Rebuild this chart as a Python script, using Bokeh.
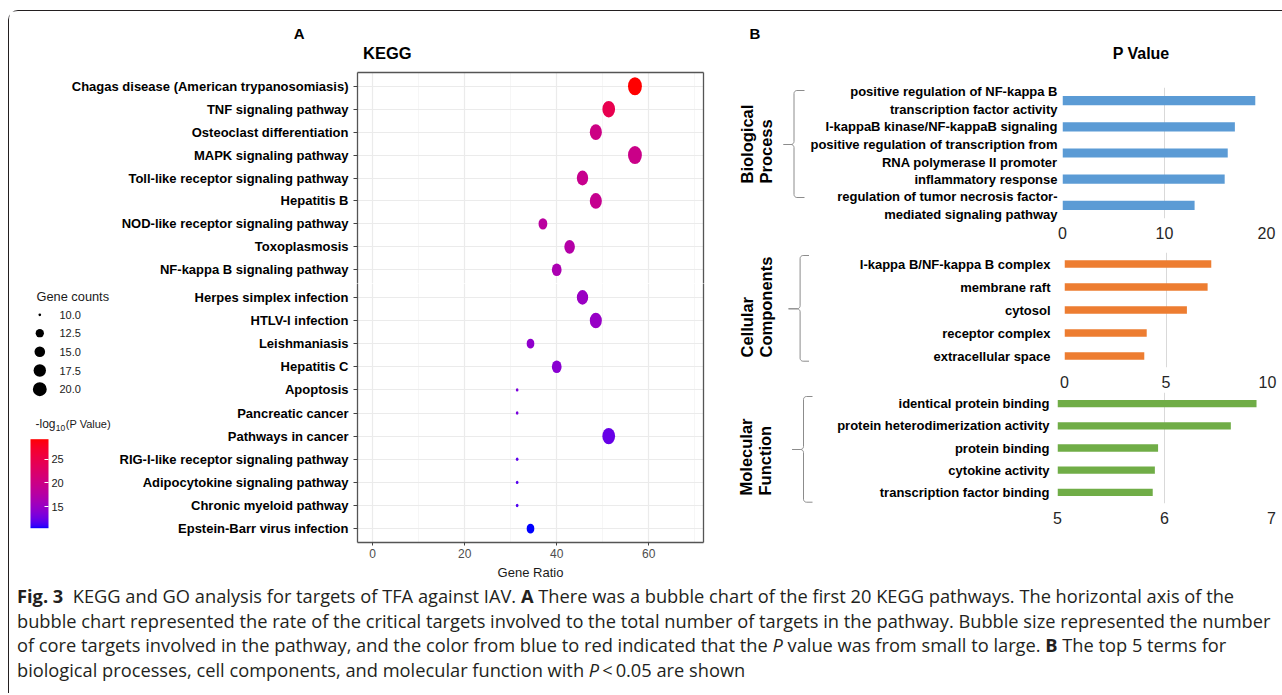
import math
from bokeh.plotting import figure
from bokeh.models import (Range1d, FactorRange, ColumnDataSource, LinearColorMapper, ColorBar,
                          FixedTicker, LinearAxis, Div)
from bokeh.layouts import row, column
from bokeh.core.properties import value
from bokeh.transform import transform
from bokeh.embed import file_html
from bokeh.resources import INLINE

# ---------------- data: panel A (KEGG bubble chart) ----------------
pathways = [
    "Chagas disease (American trypanosomiasis)", "TNF signaling pathway", "Osteoclast differentiation",
    "MAPK signaling pathway", "Toll-like receptor signaling pathway", "Hepatitis B",
    "NOD-like receptor signaling pathway", "Toxoplasmosis", "NF-kappa B signaling pathway",
    "Herpes simplex infection", "HTLV-I infection", "Leishmaniasis", "Hepatitis C", "Apoptosis",
    "Pancreatic cancer", "Pathways in cancer", "RIG-I-like receptor signaling pathway",
    "Adipocytokine signaling pathway", "Chronic myeloid pathway", "Epstein-Barr virus infection",
]
gene_ratio = [57.0, 51.3, 48.5, 57.0, 45.6, 48.5, 37.0, 42.8, 40.0, 45.6,
              48.5, 34.3, 40.0, 31.4, 31.4, 51.3, 31.4, 31.4, 31.4, 34.3]
gene_counts = [20, 18, 17, 20, 16, 17, 13, 15, 14, 16,
               17, 12, 14, 10, 10, 18, 10, 10, 10, 12]
neg_log10_p = [29.3, 24.6, 20.2, 19.9, 19.5, 19.3, 18.0, 17.4, 16.6, 15.1,
               14.9, 14.4, 14.0, 13.2, 13.0, 12.3, 11.9, 11.7, 11.5, 10.4]
x_ticks = [0, 20, 40, 60]
x_minor = [10, 30, 50, 70]
size_breaks = [10.0, 12.5, 15.0, 17.5, 20.0]
cbar_ticks = [15, 20, 25]

# ---------------- data: panel B (GO bar charts) ----------------
bp_terms = ["positive regulation of NF-kappa B\ntranscription factor activity",
            "I-kappaB kinase/NF-kappaB signaling",
            "positive regulation of transcription from\nRNA polymerase II promoter",
            "inflammatory response",
            "regulation of tumor necrosis factor-\nmediated signaling pathway"]
bp_values = [18.9, 16.9, 16.2, 15.9, 12.95]
bp_ticks = [0, 10, 20]
cc_terms = ["I-kappa B/NF-kappa B complex", "membrane raft", "cytosol",
            "receptor complex", "extracellular space"]
cc_values = [7.23, 7.05, 6.03, 4.05, 3.93]
cc_ticks = [0, 5, 10]
mf_terms = ["identical protein binding", "protein heterodimerization activity", "protein binding",
            "cytokine activity", "transcription factor binding"]
mf_values = [6.86, 6.62, 5.94, 5.91, 5.89]
mf_ticks = [5, 6, 7]

FONT = "Liberation Sans"
BORDER = "#555555"


# ---------------- blue -> red palette interpolated in CIELAB ----------------
def _srgb_to_lab(rgb):
    def lin(c):
        c = c / 255.0
        return c / 12.92 if c <= 0.04045 else ((c + 0.055) / 1.055) ** 2.4
    r, g, b = (lin(c) for c in rgb)
    X = 0.4124 * r + 0.3576 * g + 0.1805 * b
    Y = 0.2126 * r + 0.7152 * g + 0.0722 * b
    Z = 0.0193 * r + 0.1192 * g + 0.9505 * b
    Xn, Yn, Zn = 0.95047, 1.0, 1.08883
    d = 6 / 29
    f = lambda t: t ** (1 / 3) if t > d ** 3 else t / (3 * d * d) + 4 / 29
    fx, fy, fz = f(X / Xn), f(Y / Yn), f(Z / Zn)
    return 116 * fy - 16, 500 * (fx - fy), 200 * (fy - fz)


def _lab_to_hex(L, a, bb):
    Xn, Yn, Zn = 0.95047, 1.0, 1.08883
    d = 6 / 29
    fy = (L + 16) / 116
    fx = fy + a / 500
    fz = fy - bb / 200
    finv = lambda t: t ** 3 if t > d else 3 * d * d * (t - 4 / 29)
    X, Y, Z = Xn * finv(fx), Yn * finv(fy), Zn * finv(fz)
    r = 3.2406 * X - 1.5372 * Y - 0.4986 * Z
    g = -0.9689 * X + 1.8758 * Y + 0.0415 * Z
    b = 0.0557 * X - 0.2040 * Y + 1.0570 * Z

    def gam(c):
        c = max(0.0, min(1.0, c))
        c = 12.92 * c if c <= 0.0031308 else 1.055 * c ** (1 / 2.4) - 0.055
        return int(round(max(0, min(1, c)) * 255))
    return "#%02x%02x%02x" % (gam(r), gam(g), gam(b))


lo_lab = _srgb_to_lab((0, 0, 255))
hi_lab = _srgb_to_lab((255, 0, 0))
palette = [_lab_to_hex(*[lo_lab[k] + (hi_lab[k] - lo_lab[k]) * i / 255 for k in range(3)]) for i in range(256)]
mapper = LinearColorMapper(palette=palette, low=min(neg_log10_p), high=max(neg_log10_p))


def pix_fig(width, height, x0, x1, y_top, y_bot, mbt=0, mbb=0):
    """Figure without axes whose data coordinates equal page pixels (y downwards)."""
    p = figure(width=width, height=height, x_range=Range1d(x0, x1), y_range=Range1d(y_bot, y_top),
               x_axis_type=None, y_axis_type=None, min_border_left=0, min_border_right=0,
               min_border_top=mbt, min_border_bottom=mbb, toolbar_location=None, output_backend="svg")
    p.outline_line_color = None
    p.grid.visible = False
    return p


def txt(p, x, y, s, size, bold=False, align="left", baseline="middle", color="black", angle=0.0, lh=1.2):
    p.text(x=[x], y=[y], text=[s], angle=angle, text_align=align, text_baseline=baseline,
           text_font=value(FONT), text_font_size=size, text_font_style="bold" if bold else "normal",
           text_color=color, text_line_height=lh)


# ---------------- header strip (panel letters and titles) ----------------
header = pix_fig(1268, 50, 9, 1277, 11, 61)
txt(header, 298.7, 33.3, "A", "15px", bold=True, align="center")
txt(header, 362.6, 52.3, "KEGG", "16.5px", bold=True)
txt(header, 754.4, 33.3, "B", "15px", bold=True, align="center")
txt(header, 1140.6, 53.3, "P Value", "16px", bold=True, align="center")

# ---------------- panel A ----------------
cmin, cmax = min(gene_counts), max(gene_counts)


def diam(c):
    return 2.25 * (1 + 5 * math.sqrt((c - cmin) / (cmax - cmin))) + 0.4


wA = [diam(c) for c in gene_counts]
hA = [d * 1.3 for d in wA]
srcA = ColumnDataSource(dict(pathway=pathways, ratio=gene_ratio, count=gene_counts,
                             logp=neg_log10_p, w=wA, h=hA))
N_UP = 9


def bubble_fig(factors, width, height, mbl, mbt, mbb, x_loc):
    p = figure(width=width, height=height, x_range=Range1d(-3.3, 71.9),
               y_range=FactorRange(factors=factors[::-1], range_padding=0.1, range_padding_units="absolute"),
               min_border_left=mbl, min_border_right=9, min_border_top=mbt, min_border_bottom=mbb,
               x_axis_location=x_loc, toolbar_location=None, output_backend="svg")
    p.outline_line_color = None
    p.xgrid.ticker = FixedTicker(ticks=x_ticks, minor_ticks=x_minor)
    p.xgrid.grid_line_color = "#EBEBEB"
    p.xgrid.grid_line_width = 1.2
    p.xgrid.minor_grid_line_color = "#F2F2F2"
    p.xgrid.minor_grid_line_width = 0.7
    p.ygrid.grid_line_color = "#EBEBEB"
    p.ygrid.grid_line_width = 1.2
    ya = p.yaxis[0]
    ya.axis_line_color = BORDER
    ya.axis_line_width = 1.3
    ya.major_tick_line_color = "#444444"
    ya.major_tick_in = 0
    ya.major_tick_out = 4
    ya.minor_tick_line_color = None
    ya.major_label_text_font = FONT
    ya.major_label_text_font_size = "13px"
    ya.major_label_text_font_style = "bold"
    ya.major_label_text_color = "black"
    ya.major_label_standoff = 5
    right = LinearAxis(ticker=FixedTicker(ticks=[]), axis_line_color=BORDER, axis_line_width=1.3,
                       major_tick_line_color=None, minor_tick_line_color=None, major_label_standoff=0)
    p.add_layout(right, "right")
    p.ellipse(x="ratio", y="pathway", width="w", height="h", width_units="screen", height_units="screen",
              source=srcA, fill_color=transform("logp", mapper), line_color=None)
    return p


pA_up = bubble_fig(pathways[:N_UP], 703, 222, 348, 11, 0, "above")
xa = pA_up.xaxis[0]
xa.ticker = FixedTicker(ticks=[])
xa.axis_line_color = BORDER
xa.axis_line_width = 1.3
xa.major_tick_line_color = None
xa.minor_tick_line_color = None
xa.major_label_standoff = 0

LEG_W = 106
pA_lo = bubble_fig(pathways[N_UP:], 703 - LEG_W, 302, 357 - (9 + LEG_W), 0, 43, "below")
xb = pA_lo.xaxis[0]
xb.ticker = FixedTicker(ticks=x_ticks)
xb.axis_line_color = BORDER
xb.axis_line_width = 1.3
xb.major_tick_line_color = "#444444"
xb.major_tick_in = 0
xb.major_tick_out = 3
xb.minor_tick_line_color = None
xb.major_label_text_font = FONT
xb.major_label_text_font_size = "12px"
xb.major_label_text_color = "#4D4D4D"
xb.major_label_standoff = 3
xb.axis_label = "Gene Ratio"
xb.axis_label_text_font = FONT
xb.axis_label_text_font_size = "13px"
xb.axis_label_text_font_style = "normal"
xb.axis_label_text_color = "#1a1a1a"
xb.axis_label_standoff = 4

# legend column (page pixel coordinates; frame aligned with the lower bubble frame 283..542)
legf = pix_fig(LEG_W, 302, 9, 9 + LEG_W, 283, 542, mbt=0, mbb=43)
txt(legf, 36, 296, "Gene counts", "12.8px", color="#1a1a1a")
dot_ys = [314.3, 332.7, 351.3, 370.0, 388.7]
legf.scatter(x=[39.3] * len(size_breaks), y=dot_ys, size=[diam(b) for b in size_breaks],
             marker="circle", fill_color="black", line_color=None)
legf.text(x=[59] * len(size_breaks), y=dot_ys, text=[f"{b:.1f}" for b in size_breaks],
          text_align="left", text_baseline="middle", text_font=value(FONT), text_font_size="11px",
          text_color="#1a1a1a")
txt(legf, 35, 423.3, "-log", "12px", color="#1a1a1a")
txt(legf, 55.3, 427.3, "10", "8.5px", color="#1a1a1a")
txt(legf, 65.3, 423.3, "(P Value)", "11px", color="#1a1a1a")
cb = ColorBar(color_mapper=mapper, location=(21, 14.3), width=18, height=89, padding=0,
              ticker=FixedTicker(ticks=cbar_ticks), major_label_text_font=FONT,
              major_label_text_font_size="11px", major_label_text_color="#1a1a1a", label_standoff=3,
              major_tick_line_color="white", major_tick_in=4, major_tick_out=0,
              bar_line_color=None, border_line_color=None, background_fill_color=None)
legf.add_layout(cb)

panelA = column(pA_up, row(legf, pA_lo))


# ---------------- panel B ----------------
def bar_fig(terms, vals, xr, ticks, color, width, height, mbl, mbr, mbt, mbb, standoff, bar_h, base):
    p = figure(width=width, height=height, x_range=Range1d(*xr), y_range=FactorRange(factors=terms[::-1]),
               min_border_left=mbl, min_border_right=mbr, min_border_top=mbt, min_border_bottom=mbb,
               toolbar_location=None, output_backend="svg")
    src = ColumnDataSource(dict(term=terms, val=vals))
    p.hbar(y="term", left=base, right="val", height=bar_h, source=src, fill_color=color, line_color=None)
    p.outline_line_color = None
    p.ygrid.grid_line_color = None
    p.xgrid.grid_line_color = "#D9D9D9"
    p.xgrid.grid_line_width = 1
    p.xaxis.ticker = FixedTicker(ticks=ticks)
    for ax in (p.xaxis[0], p.yaxis[0]):
        ax.axis_line_color = None
        ax.major_tick_line_color = None
        ax.major_tick_in = 0
        ax.major_tick_out = 0
        ax.minor_tick_line_color = None
    p.xaxis.major_label_text_font = FONT
    p.xaxis.major_label_text_font_size = "16px"
    p.xaxis.major_label_text_color = "#262626"
    p.xaxis.major_label_standoff = 8
    p.yaxis.major_label_text_font = FONT
    p.yaxis.major_label_text_font_size = "13px"
    p.yaxis.major_label_text_font_style = "bold"
    p.yaxis.major_label_text_color = "black"
    p.yaxis.major_label_standoff = standoff
    return p


def brace(p, x_stem, x_hook, x_tip, y_top, y_bot, y_mid, r=3.0):
    def arc(cx, cy, a0, a1, n=6):
        return [(cx + r * math.cos(a0 + (a1 - a0) * k / n), cy + r * math.sin(a0 + (a1 - a0) * k / n))
                for k in range(n + 1)]
    up = [(x_hook, y_top)] + arc(x_stem + r, y_top + r, -math.pi / 2, -math.pi) + \
         [(x_stem, y_mid - r)] + arc(x_stem - r, y_mid - r, 0, math.pi / 2) + [(x_tip, y_mid)]
    lo = [(x_hook, y_bot)] + arc(x_stem + r, y_bot - r, math.pi / 2, math.pi) + \
         [(x_stem, y_mid + r)] + arc(x_stem - r, y_mid + r, 0, -math.pi / 2) + [(x_tip, y_mid)]
    p.multi_line(xs=[[q[0] for q in up], [q[0] for q in lo]], ys=[[q[1] for q in up], [q[1] for q in lo]],
                 line_color="#8C8C8C", line_width=1)


def group_row(page_top, height, mbt, mbb, gw, label, lx, ly, br, bar_args):
    g = pix_fig(gw, height, 712, 712 + gw, page_top + mbt, page_top + height - mbb, mbt=mbt, mbb=mbb)
    txt(g, lx, ly, label, "16.5px", bold=True, angle=math.pi / 2, lh=1.1)
    brace(g, *br)
    b = bar_fig(*bar_args)
    return row(g, b)


GW1, GW2 = 93, 110
rowBP = group_row(61, 183, 26, 26, GW1, "Biological\nProcess", 756, 183, (793.5, 804, 783, 90, 197, 144),
                  (bp_terms, bp_values, (0, 20), bp_ticks, "#5B9BD5", 1268 - 703 - GW1, 183,
                   round(1062.3 - 712 - GW1), 11, 26, 26, 5, 0.35, 0))
rowCC = group_row(244, 148, 8, 25, GW2, "Cellular\nComponents", 756, 357, (799.6, 808.5, 788, 255, 360.7, 308.3),
                  (cc_terms, cc_values, (0, 10), cc_ticks, "#ED7D31", 1268 - 703 - GW2, 148,
                   round(1063.7 - 712 - GW2), 10, 8, 25, 14, 0.32, 0))
rowMF = group_row(392, 193, 0, 82, GW2, "Molecular\nFunction", 755, 495, (803, 812, 791.7, 396, 501.7, 449),
                  (mf_terms, mf_values, (5, 7), mf_ticks, "#70AD47", 1268 - 703 - GW2, 193,
                   round(1057.3 - 712 - GW2), 6, 0, 82, 8, 0.33, 5))
panelB = column(rowBP, rowCC, rowMF)

caption_html = (
    '<div style="font-family:\'Open Sans\', sans-serif;font-size:18.25px;line-height:24.6px;'
    'color:#231f20;white-space:nowrap;padding-left:3px;margin:0;position:relative;top:-6px">'
    '<b>Fig.&nbsp;3</b>&nbsp; KEGG and GO analysis for targets of TFA against IAV. <b>A</b> There was a bubble '
    'chart of the first 20 KEGG pathways. The horizontal axis of the<br>'
    'bubble chart represented the rate of the critical targets involved to the total number of targets in the '
    'pathway. Bubble size represented the number<br>'
    'of core targets involved in the pathway, and the color from blue to red indicated that the <i>P</i> value '
    'was from small to large. <b>B</b> The top 5 terms for<br>'
    'biological processes, cell components, and molecular function with <i>P</i>&thinsp;&lt;&thinsp;0.05 are shown'
    '</div>'
)
cap = Div(text=caption_html, width=1268, height=98)

layout = column(header, row(panelA, panelB), cap,
                styles={"margin-left": "8px", "margin-top": "10px",
                        "border-left": "1px solid #231f20", "border-top": "1px solid #231f20",
                        "border-top-left-radius": "10px"})

open("out.html", "w").write(file_html(layout, INLINE))
